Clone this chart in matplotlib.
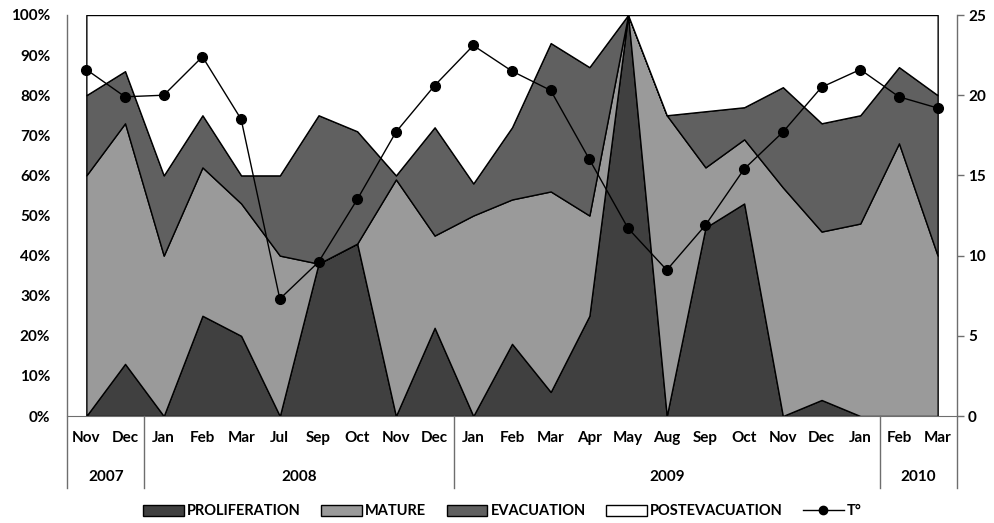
import numpy as np
import matplotlib.pyplot as plt
import matplotlib.transforms as mtransforms
from matplotlib.patches import Patch
from matplotlib.lines import Line2D
from matplotlib.ticker import PercentFormatter

plt.rcParams['font.family'] = ['Lato', 'DejaVu Sans']
plt.rcParams['font.weight'] = 'bold'
plt.rcParams['font.size'] = 11

# monthly samples, grouped by year
months = ['Nov', 'Dec', 'Jan', 'Feb', 'Mar', 'Jul', 'Sep', 'Oct', 'Nov', 'Dec',
          'Jan', 'Feb', 'Mar', 'Apr', 'May', 'Aug', 'Sep', 'Oct', 'Nov', 'Dec', 'Jan',
          'Feb', 'Mar']
years = ['2007', '2008', '2009', '2010']
year_counts = [2, 8, 11, 2]

# share of each stage (%), stacked
proliferation = [0, 13, 0, 25, 20, 0, 38, 43, 0, 22, 0, 18, 6, 25, 100, 0, 47, 53, 0, 4, 0, 0, 0]
mature = [60, 60, 40, 37, 33, 40, 0, 0, 59, 23, 50, 36, 50, 25, 0, 75, 15, 16, 57, 42, 48, 68, 40]
evacuation = [20, 13, 20, 13, 7, 20, 37, 28, 1, 27, 8, 18, 37, 37, 0, 0, 14, 8, 25, 27, 27, 19, 40]
postevacuation = [20, 14, 40, 25, 40, 40, 25, 29, 40, 28, 42, 28, 7, 13, 0, 25, 24, 23, 18, 27, 25, 13, 20]

# water temperature
temperature = [21.6, 19.9, 20.0, 22.4, 18.5, 7.3, 9.6, 13.5, 17.7, 20.6, 23.1, 21.5,
               20.3, 16.0, 11.7, 9.1, 11.9, 15.4, 17.7, 20.5, 21.6, 19.9, 19.2]

stage_names = ['PROLIFERATION', 'MATURE', 'EVACUATION', 'POSTEVACUATION']
stage_colors = ['#404040', '#9a9a9a', '#606060', '#ffffff']
axis_grey = '#6e6e6e'

fig = plt.figure(figsize=(9.95, 5.23), dpi=100)
ax = fig.add_axes([67 / 995, 1 - 416 / 523, 890 / 995, 401 / 523])

x = np.arange(len(months))
ax.stackplot(x, proliferation, mature, evacuation, postevacuation,
             colors=stage_colors, edgecolor='black', linewidth=1.0)

ax.set_xlim(-0.5, len(months) - 0.5)
ax.set_ylim(0, 100)
ax.set_yticks(range(0, 101, 10))
ax.yaxis.set_major_formatter(PercentFormatter(decimals=0))
ax.set_xticks([])
ax.tick_params(axis='y', length=0, pad=12, labelsize=11)
for side in ['top', 'right', 'left']:
    ax.spines[side].set_visible(False)
ax.spines['bottom'].set_color(axis_grey)

# two-level category labels under the axis
trans = mtransforms.blended_transform_factory(ax.transData, ax.transAxes)
for i, m in enumerate(months):
    ax.text(i, -0.055, m, transform=trans, ha='center', va='center', fontsize=11)

bounds = np.concatenate([[0], np.cumsum(year_counts)]) - 0.5
for b in bounds:
    top = 1.0 if b in (bounds[0], bounds[-1]) else 0.0
    ax.plot([b, b], [top, -0.18], transform=trans, clip_on=False,
            color=axis_grey, lw=1)
for yr, lo, hi in zip(years, bounds[:-1], bounds[1:]):
    ax.text((lo + hi) / 2, -0.152, yr, transform=trans, ha='center', va='center',
            fontsize=11)

# temperature on secondary axis
ax2 = ax.twinx()
ax2.plot(x, temperature, color='black', lw=1.0, marker='o', markersize=7)
ax2.set_ylim(0, 25)
ax2.set_yticks(range(0, 26, 5))
ax2.tick_params(axis='y', length=5, width=1, color=axis_grey, pad=3, labelsize=11)
for side in ['top', 'left', 'bottom', 'right']:
    ax2.spines[side].set_visible(False)

handles = [Patch(facecolor=c, edgecolor='black', linewidth=1) for c in stage_colors]
handles.append(Line2D([], [], color='black', lw=1, marker='o', markersize=6))
fig.legend(handles, stage_names + ['T°'], loc='center', bbox_to_anchor=(0.505, 0.022),
           ncol=5, frameon=False, handlelength=2.8, handleheight=0.8,
           handletextpad=0.2, columnspacing=1.4, fontsize=10.5)

fig.savefig('out.png', dpi=100)
